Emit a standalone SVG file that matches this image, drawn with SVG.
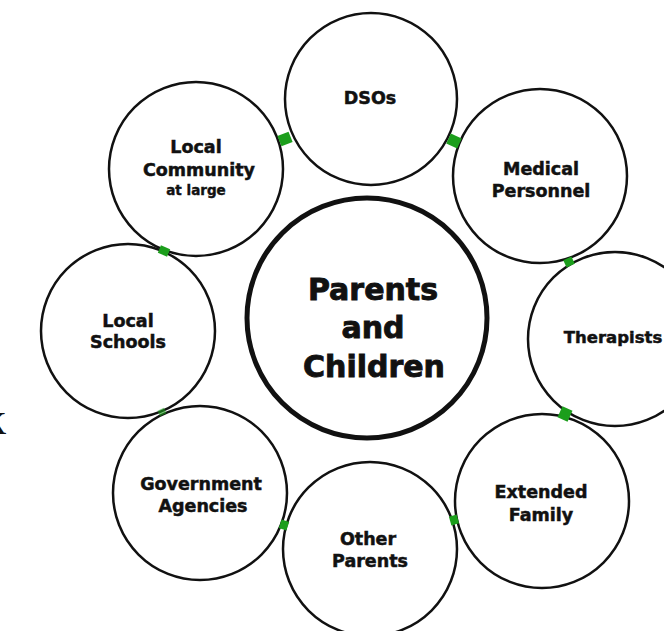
<svg xmlns="http://www.w3.org/2000/svg" width="664" height="631" viewBox="0 0 664 631">
  <style>
    .node { fill: #ffffff; stroke: #111111; stroke-width: 2.5; }
    .hub { fill: #ffffff; stroke: #111111; stroke-width: 5; }
    .lbl { font-family: "DejaVu Sans", "Liberation Sans", sans-serif; font-weight: bold; font-size: 17.5px; fill: #111111; stroke: #111111; stroke-width: 0.5; text-anchor: middle; }
    .small { font-size: 13.5px; stroke-width: 0.4; }
    .hubl { font-size: 30px; stroke-width: 0.9; }
    .link { stroke: #1c9e1c; stroke-width: 11; stroke-linecap: butt; }
  </style>
  <rect x="0" y="0" width="664" height="631" fill="#ffffff"/>

  <g id="node-dsos"><circle class="node" cx="371" cy="99" r="86"/></g>
  <g id="node-medical"><circle class="node" cx="540" cy="176" r="87"/></g>
  <g id="node-therapists"><circle class="node" cx="615" cy="339" r="87"/></g>
  <g id="node-extended"><circle class="node" cx="542" cy="501" r="87"/></g>
  <g id="node-other"><circle class="node" cx="370" cy="549" r="87"/></g>
  <g id="node-government"><circle class="node" cx="200" cy="493" r="87"/></g>
  <g id="node-schools"><circle class="node" cx="128" cy="331" r="87"/></g>
  <g id="node-community"><circle class="node" cx="196" cy="169" r="87"/></g>
  <g id="node-center"><circle class="hub" cx="367" cy="318" r="120"/></g>

  <g id="connectors">
    <line class="link" x1="-6" y1="0" x2="6" y2="0" transform="translate(285 139) rotate(-21.8)"/>
    <line class="link" x1="-6" y1="0" x2="6" y2="0" transform="translate(454 141) rotate(24.5)"/>
    <line class="link" x1="-4" y1="0" x2="4" y2="0" transform="translate(569 262) rotate(65.3)" style="stroke-width:9"/>
    <line class="link" x1="-6" y1="0" x2="6" y2="0" transform="translate(565 414) rotate(114.3)"/>
    <line class="link" x1="-4" y1="0" x2="4" y2="0" transform="translate(454 520) rotate(164.4)" style="stroke-width:9"/>
    <line class="link" x1="-4" y1="0" x2="4" y2="0" transform="translate(284 525) rotate(18.2)" style="stroke-width:9"/>
    <line class="link" x1="-3" y1="0" x2="3" y2="0" transform="translate(162 412) rotate(66)" style="stroke-width:7;stroke-opacity:0.6"/>
    <line class="link" x1="-4" y1="0" x2="4" y2="0" transform="translate(164 251) rotate(-67.2)" style="stroke-width:10"/>
  </g>

  <g id="labels">
    <text class="lbl" x="370" y="104">DSOs</text>
    <text class="lbl" x="196" y="153">Local</text>
    <text class="lbl" x="199" y="176">Community</text>
    <text class="lbl small" x="196" y="195">at large</text>
    <text class="lbl" x="541" y="175">Medical</text>
    <text class="lbl" x="541" y="197">Personnel</text>
    <text class="lbl" x="613" y="343" style="font-size:16.5px">Therapists</text>
    <text class="lbl" x="541" y="498">Extended</text>
    <text class="lbl" x="541" y="521">Family</text>
    <text class="lbl" x="368" y="545">Other</text>
    <text class="lbl" x="370" y="567">Parents</text>
    <text class="lbl" x="201" y="490">Government</text>
    <text class="lbl" x="203" y="512">Agencies</text>
    <text class="lbl" x="128" y="327">Local</text>
    <text class="lbl" x="128" y="348">Schools</text>
    <text class="lbl hubl" x="373" y="300">Parents</text>
    <text class="lbl hubl" x="373" y="338">and</text>
    <text class="lbl hubl" x="374" y="377">Children</text>
  </g>
  <text x="-17" y="434" font-family="Liberation Serif, serif" font-size="46" fill="#111111">k</text>
</svg>
